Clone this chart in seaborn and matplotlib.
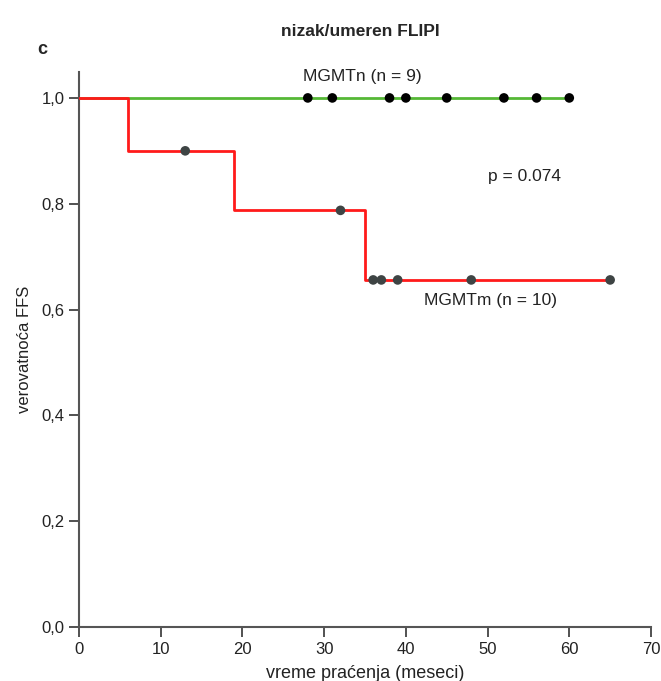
import matplotlib
matplotlib.use("Agg")
import matplotlib.pyplot as plt
import seaborn as sns
import pandas as pd
import numpy as np

# Data
green_times = [0, 60]
green_surv = [1.0, 1.0]
green_censor_t = [28, 31, 38, 40, 45, 52, 56, 60]

red_times = [0, 6, 19, 35, 65]
red_surv = [1.0, 0.9, 0.7875, 0.656, 0.656]
red_censor_t = [13, 32, 36, 37, 39, 48, 65]
red_censor_s = [0.9, 0.7875, 0.656, 0.656, 0.656, 0.656, 0.656]

x_ticks = [0, 10, 20, 30, 40, 50, 60, 70]
y_ticks = [0.0, 0.2, 0.4, 0.6, 0.8, 1.0]
y_ticklabels = ["0,0", "0,2", "0,4", "0,6", "0,8", "1,0"]

sns.set_style("white")
plt.rcParams['font.family'] = ['Liberation Sans', 'DejaVu Sans']

fig = plt.figure(figsize=(6.61, 6.81), dpi=100)
ax = fig.add_axes([79/661, 1-627/681, (651-79)/661, (627-72)/681])

gdf = pd.DataFrame({"t": green_times, "s": green_surv})
rdf = pd.DataFrame({"t": red_times, "s": red_surv})
sns.lineplot(data=gdf, x="t", y="s", ax=ax, color="#55b835", lw=2,
             drawstyle="steps-post", estimator=None, zorder=2)
sns.lineplot(data=rdf, x="t", y="s", ax=ax, color="#ff1a1a", lw=2,
             drawstyle="steps-post", estimator=None, zorder=3)

gc = pd.DataFrame({"t": green_censor_t, "s": [1.0]*len(green_censor_t)})
rc = pd.DataFrame({"t": red_censor_t, "s": red_censor_s})
sns.scatterplot(data=gc, x="t", y="s", ax=ax, color="black", s=48,
                edgecolor="none", zorder=4)
sns.scatterplot(data=rc, x="t", y="s", ax=ax, color="#3e4444", s=48,
                edgecolor="none", zorder=4)

ax.set_xlim(0, 70)
ax.set_ylim(0, 1.049)
ax.set_xticks(x_ticks)
ax.set_xticklabels([str(v) for v in x_ticks])
ax.set_yticks(y_ticks)
ax.set_yticklabels(y_ticklabels)
for side in ["top", "right"]:
    ax.spines[side].set_visible(False)
for side in ["left", "bottom"]:
    ax.spines[side].set_color("#555555")
    ax.spines[side].set_linewidth(1.5)
ax.tick_params(axis="both", which="both", direction="out", length=7,
               width=1.2, color="#333333", labelsize=12, labelcolor="#222222",
               left=True, bottom=True)
ax.set_xlabel("vreme praćenja (meseci)", fontsize=13, color="#222222", labelpad=6)
ax.set_ylabel("verovatnoća FFS", fontsize=12, color="#222222", labelpad=7)

ax.annotate("MGMTn (n = 9)", xy=(0, 0), xycoords="figure pixels",
            xytext=(362, 681-77), textcoords="figure pixels",
            ha="center", va="center", fontsize=12.5, color="#222222")
ax.annotate("p = 0.074", xy=(0, 0), xycoords="figure pixels",
            xytext=(525, 681-177), textcoords="figure pixels",
            ha="center", va="center", fontsize=12.5, color="#222222")
ax.annotate("MGMTm (n = 10)", xy=(0, 0), xycoords="figure pixels",
            xytext=(490, 681-300), textcoords="figure pixels",
            ha="center", va="center", fontsize=12.5, color="#222222")

fig.text(360/661, 1-32/681, "nizak/umeren FLIPI", ha="center", va="center",
         fontsize=12.5, fontweight="bold")
fig.text(42/661, 1-50/681, "c", ha="center", va="center",
         fontsize=13, fontweight="bold")

fig.savefig("out.png", dpi=100)
